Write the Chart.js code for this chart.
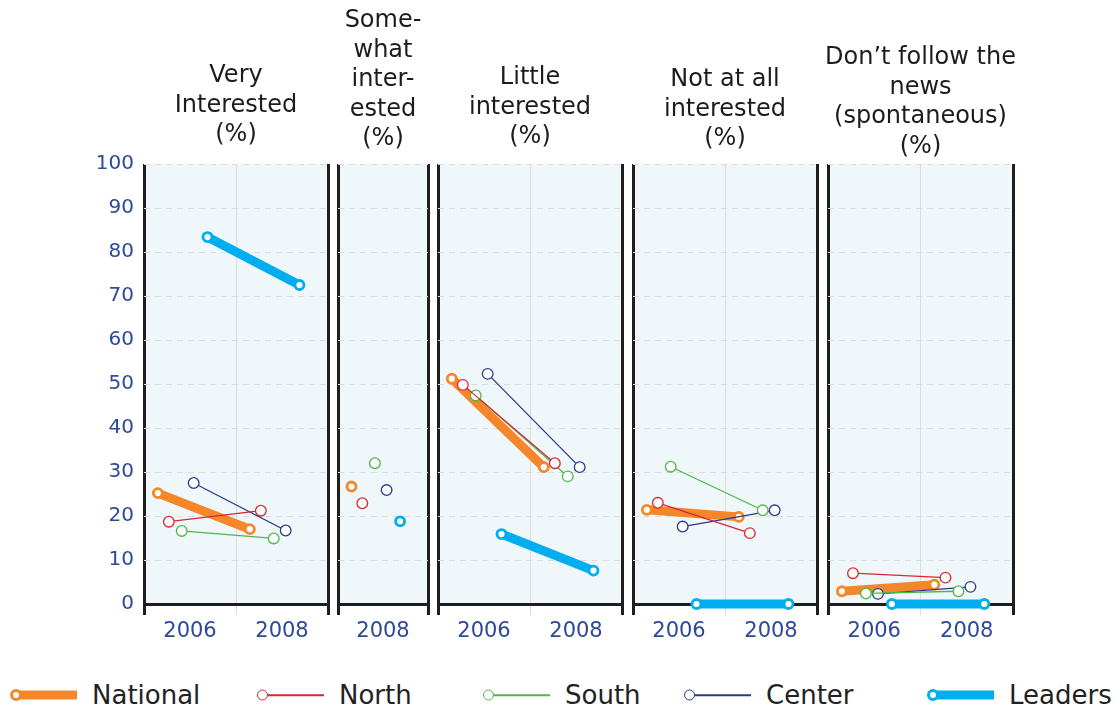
<!DOCTYPE html>
<html lang="en">
<head>
<meta charset="UTF-8">
<title>Interest in the news</title>
<script src="https://cdn.jsdelivr.net/npm/chart.js"></script>
<style>
  body {
    margin: 0;
    width: 1117px;
    height: 706px;
    position: relative;
    overflow: hidden;
    background: #fff;
    font-family: "DejaVu Sans", sans-serif;
  }
  .panel { position: absolute; top: 0; height: 645px; }
  .legend-item {
    position: absolute;
    top: 680px;
    height: 30px;
    display: flex;
    align-items: center;
    font-size: 26px;
    color: #222;
  }
  .swatch { position: relative; width: 67px; height: 30px; margin-right: 15px; }
  .swatch .ln { position: absolute; left: 4px; right: 0; top: 50%; transform: translateY(-50%); }
  .swatch .pt {
    position: absolute; left: 0; top: 50%; transform: translateY(-50%);
    border-radius: 50%; background: #fff; box-sizing: border-box;
  }
</style>
</head>
<body>

<script>
// panel headings and x categories
const panelTitles = [
  ['Very', 'Interested', '(%)'],
  ['Some-', 'what', 'inter-', 'ested', '(%)'],
  ['Little', 'interested', '(%)'],
  ['Not at all', 'interested', '(%)'],
  ['Don\u2019t follow the', 'news', '(spontaneous)', '(%)']
];
const panelYears = [['2006', '2008'], ['2008'], ['2006', '2008'], ['2006', '2008'], ['2006', '2008']];

// series values, one inner array per panel (same order as panelYears)
const seriesNames = ['National', 'North', 'South', 'Center', 'Leaders'];
const national = [[25.2, 17.0], [26.7], [51.2, 31.1], [21.4, 19.8], [2.9, 4.4]];
const north    = [[18.7, 21.2], [22.9], [49.8, 32.0], [23.0, 16.1], [7.0, 6.0]];
const south    = [[16.6, 14.9], [32.0], [47.4, 29.0], [31.2, 21.3], [2.4, 2.9]];
const center   = [[27.5, 16.7], [25.9], [52.3, 31.1], [17.6, 21.3], [2.3, 3.9]];
const leaders  = [[83.4, 72.5], [18.8], [15.9, 7.6], [0, 0], [0, 0]];
const seriesValues = [national, north, south, center, leaders];

// styling
const colors = ['#f5872a', '#d8282f', '#4db848', '#2b3990', '#00aeef'];
const lineWidths = [9, 1.3, 1.3, 1.3, 9];
const dodge = [-0.35, -0.23, -0.09, 0.04, 0.19];
const panelLeft = [144, 338, 438, 633, 828];
const panelWidth = [184, 90, 184, 184, 185];
const titleFirstLine = [76, 21, 78, 80, 58];
const legendLeft = [10, 257, 483, 684, 927];
const TOP = 164, LH = 29.5, YAXIS_W = 54, PAD = 8;
const tickBlue = '#2d4a9a';

const bgPlugin = {
  id: 'panelBg',
  beforeDraw(chart) {
    const a = chart.chartArea, c = chart.ctx;
    c.save();
    c.fillStyle = '#eff7fb';
    c.fillRect(a.left, a.top, a.right - a.left, a.bottom - a.top);
    c.restore();
  }
};

panelTitles.forEach((title, p) => {
  const first = p === 0;
  const n = panelYears[p].length;
  const div = document.createElement('div');
  div.className = 'panel';
  const leftW = first ? YAXIS_W : PAD;
  div.style.left = (panelLeft[p] - leftW) + 'px';
  div.style.width = (panelWidth[p] + leftW + PAD) + 'px';
  const cv = document.createElement('canvas');
  div.appendChild(cv);
  document.body.appendChild(div);

  const thick = s => lineWidths[s] > 2;
  const datasets = seriesNames.map((name, s) => ({
    label: name,
    data: seriesValues[s][p].map((v, i) => ({ x: i + dodge[s], y: v })),
    borderColor: colors[s],
    borderWidth: lineWidths[s],
    pointRadius: thick(s) ? 4.5 : 5.3,
    pointBorderWidth: thick(s) ? 2.8 : 1.3,
    pointBackgroundColor: '#fff',
    pointBorderColor: colors[s],
    order: thick(s) ? 1 : 0,
    clip: false
  }));

  const lo = -0.5, hi = n - 0.5;
  const isEdge = ctx => ctx.tick && (ctx.tick.value === lo || ctx.tick.value === hi);
  const gridCol = ctx => {
    if (isEdge(ctx)) return '#1e1e1e';
    if (ctx.tick && Number.isInteger(ctx.tick.value)) return 'rgba(0,0,0,0)';
    return '#dcdcdc';
  };

  const padTop = titleFirstLine[p] - LH / 2;
  new Chart(cv, {
    type: 'line',
    data: { datasets },
    options: {
      responsive: true,
      maintainAspectRatio: false,
      animation: false,
      layout: { padding: 0 },
      plugins: {
        legend: { display: false },
        tooltip: { enabled: false },
        title: {
          display: true,
          text: title,
          fullSize: !first,
          color: '#1c1c1c',
          font: { family: 'DejaVu Sans', size: 24, weight: 'normal', lineHeight: LH + 'px' },
          padding: { top: padTop, bottom: TOP - padTop - title.length * LH }
        }
      },
      scales: {
        x: {
          type: 'linear',
          min: lo,
          max: hi,
          afterBuildTicks: s => {
            const t = [];
            for (let v = lo; v <= hi + 1e-9; v += 0.5) t.push({ value: v });
            s.ticks = t;
          },
          afterFit: s => { s.height = 41; },
          ticks: {
            autoSkip: false,
            maxRotation: 0,
            padding: 4,
            color: tickBlue,
            font: { family: 'DejaVu Sans', size: 21 },
            callback: v => Number.isInteger(v) ? panelYears[p][v] : ''
          },
          grid: {
            color: gridCol,
            tickColor: gridCol,
            lineWidth: ctx => isEdge(ctx) ? 3 : 1,
            tickLength: 11
          },
          border: { display: true, color: '#1e1e1e', width: 3 }
        },
        y: {
          min: 0,
          max: 100,
          afterFit: s => { s.width = leftW; },
          ticks: {
            display: first,
            stepSize: 10,
            padding: 10,
            color: tickBlue,
            font: { family: 'DejaVu Sans', size: 20 }
          },
          grid: {
            drawTicks: false,
            color: ctx => (ctx.tick && ctx.tick.value === 0) ? 'rgba(0,0,0,0)' : '#dcdcdc',
            lineWidth: 1
          },
          border: { display: false, dash: [6, 5] }
        },
        // empty spacer on the right so the thick panel border is not clipped
        yRight: {
          position: 'right',
          min: 0,
          max: 100,
          afterFit: s => { s.width = PAD; },
          ticks: { display: false },
          grid: { display: false, drawTicks: false },
          border: { display: false }
        }
      }
    },
    plugins: [bgPlugin]
  });
});

// legend
seriesNames.forEach((name, s) => {
  const thick = lineWidths[s] > 2;
  const item = document.createElement('div');
  item.className = 'legend-item';
  item.style.left = legendLeft[s] + 'px';
  const sw = document.createElement('div');
  sw.className = 'swatch';
  const ln = document.createElement('div');
  ln.className = 'ln';
  ln.style.height = (thick ? 9 : 1.5) + 'px';
  ln.style.background = colors[s];
  const pt = document.createElement('div');
  pt.className = 'pt';
  const d = thick ? 12 : 11;
  pt.style.width = d + 'px';
  pt.style.height = d + 'px';
  pt.style.border = (thick ? 3 : 1.5) + 'px solid ' + colors[s];
  sw.appendChild(ln);
  sw.appendChild(pt);
  const label = document.createElement('span');
  label.textContent = name;
  item.appendChild(sw);
  item.appendChild(label);
  document.body.appendChild(item);
});
</script>

</body>
</html>
